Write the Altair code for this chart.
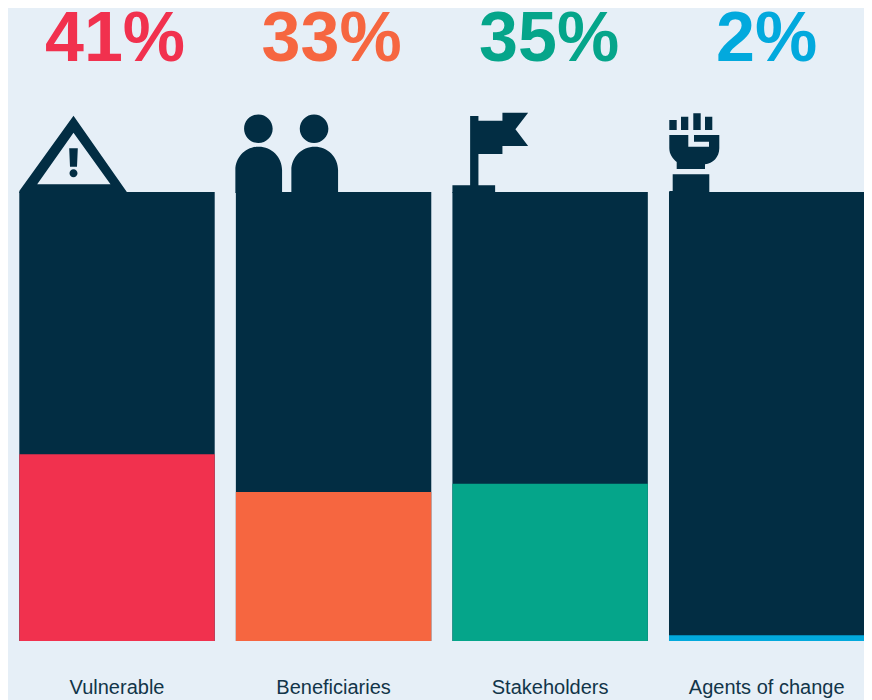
import altair as alt
import pandas as pd

categories = ["Vulnerable", "Beneficiaries", "Stakeholders", "Agents of change"]
labels = ["41%", "33%", "35%", "2%"]
bar_values = [41.6, 33.2, 35.0, 1.3]
label_nudge = [-2, -2, -1, 0]
colors = ["#f1314e", "#f66640", "#05a58a", "#02a9dd"]
BG = "#e6eff7"
DARK = "#022d43"
FONT = "Liberation Sans"

ICONS = [
    # warning triangle
    "M-97.7,1 L-97.7,-1 L-43.5,-76.3 L10.2,0.5 L10.2,1 Z "
    "M-43.5,-59.3 L-79.8,-7.7 L-6.5,-7.7 Z "
    "M-47.8,-43.7 L-39.2,-43.7 L-40,-25.3 L-47,-25.3 Z "
    "M-47.5,-18.7 A4,4 0 1,1 -39.5,-18.7 A4,4 0 1,1 -47.5,-18.7 Z",
    # two people
    "M-89.5,-63.3 A14.3,14.3 0 1,1 -60.9,-63.3 A14.3,14.3 0 1,1 -89.5,-63.3 Z "
    "M-33.8,-63.3 A14.3,14.3 0 1,1 -5.2,-63.3 A14.3,14.3 0 1,1 -33.8,-63.3 Z "
    "M-98.2,1 L-98.2,-22 A23.35,23.35 0 0 1 -51.5,-22 L-51.5,1 Z "
    "M-42.2,1 L-42.2,-22 A23.35,23.35 0 0 1 4.5,-22 L4.5,1 Z",
    # flag
    "M-97.7,1 L-97.7,-6.7 L-80,-6.7 L-80,-76 L-71.7,-76 L-71.7,-71.3 L-47.7,-71.3 L-47.7,-79.3 "
    "L-22,-79.3 L-34.7,-62.7 L-22,-46 L-47.7,-46 L-47.7,-38 L-71.7,-38 L-71.7,-6.7 L-55,-6.7 L-55,1 Z",
    # fist
    "M-97.4,1 L-97.4,-1 L-94,-1 L-94,-17.7 L-57.4,-17.7 L-57.4,1 Z "
    "M-97.4,-57 L-78.4,-57 L-78.4,-45.3 L-57.7,-45.3 L-57.7,-50.3 L-72.7,-50.3 L-72.7,-57 L-47.4,-57 L-47.4,-43.7 "
    "C-47.4,-35 -54,-28 -61.7,-27.7 L-61.7,-23 L-90,-23 L-90,-30 C-94,-33 -97.4,-38 -97.4,-43.7 Z "
    "M-97.4,-72 L-90,-72 L-90,-62 L-97.4,-62 Z "
    "M-85.7,-75.3 L-78.4,-75.3 L-78.4,-62 L-85.7,-62 Z "
    "M-73.4,-78.7 L-66,-78.7 L-66,-62 L-73.4,-62 Z "
    "M-61.7,-75.3 L-54.4,-75.3 L-54.4,-62 L-61.7,-62 Z",
]

df = pd.DataFrame({"cat": categories, "label": labels, "val": bar_values, "full": [100] * 4})

x = alt.X("cat:N", axis=None, sort=categories,
          scale=alt.Scale(domain=categories, range=[11.3, 856.4], paddingInner=0.0977, paddingOuter=0))
y = alt.Y("full:Q", axis=None, scale=alt.Scale(domain=[0, 100], range=[633, 184]))
yv = alt.Y("val:Q", axis=None, scale=alt.Scale(domain=[0, 100], range=[633, 184]))
col = alt.Color("cat:N", scale=alt.Scale(domain=categories, range=colors), legend=None)

dark = alt.Chart(df).mark_bar(color=DARK).encode(x=x, y=y)
part = alt.Chart(df).mark_bar().encode(x=x, y=yv, color=col)

icons = [
    alt.Chart(df[df.cat == c]).mark_point(shape=p, filled=True, size=4, opacity=1, color=DARK).encode(x=x, y=y)
    for c, p in zip(categories, ICONS)
]

pct = [
    alt.Chart(df[df.cat == c]).mark_text(font=FONT, fontWeight="bold", fontSize=70, baseline="alphabetic", dx=d).encode(
        x=x, y=alt.value(53), text="label:N", color=col)
    for c, d in zip(categories, label_nudge)
]
names = alt.Chart(df).mark_text(font=FONT, fontSize=20, baseline="alphabetic", color="#123549").encode(
    x=x, y=alt.value(685.5), text="cat:N")

chart = alt.layer(dark, part, *icons, *pct, names).properties(
    width=856, height=692, background=BG, padding=0,
    autosize=alt.AutoSizeParams(type="none"),
).configure_view(stroke=None)

chart.save("out.html", embed_options={"renderer": "svg", "actions": False})
